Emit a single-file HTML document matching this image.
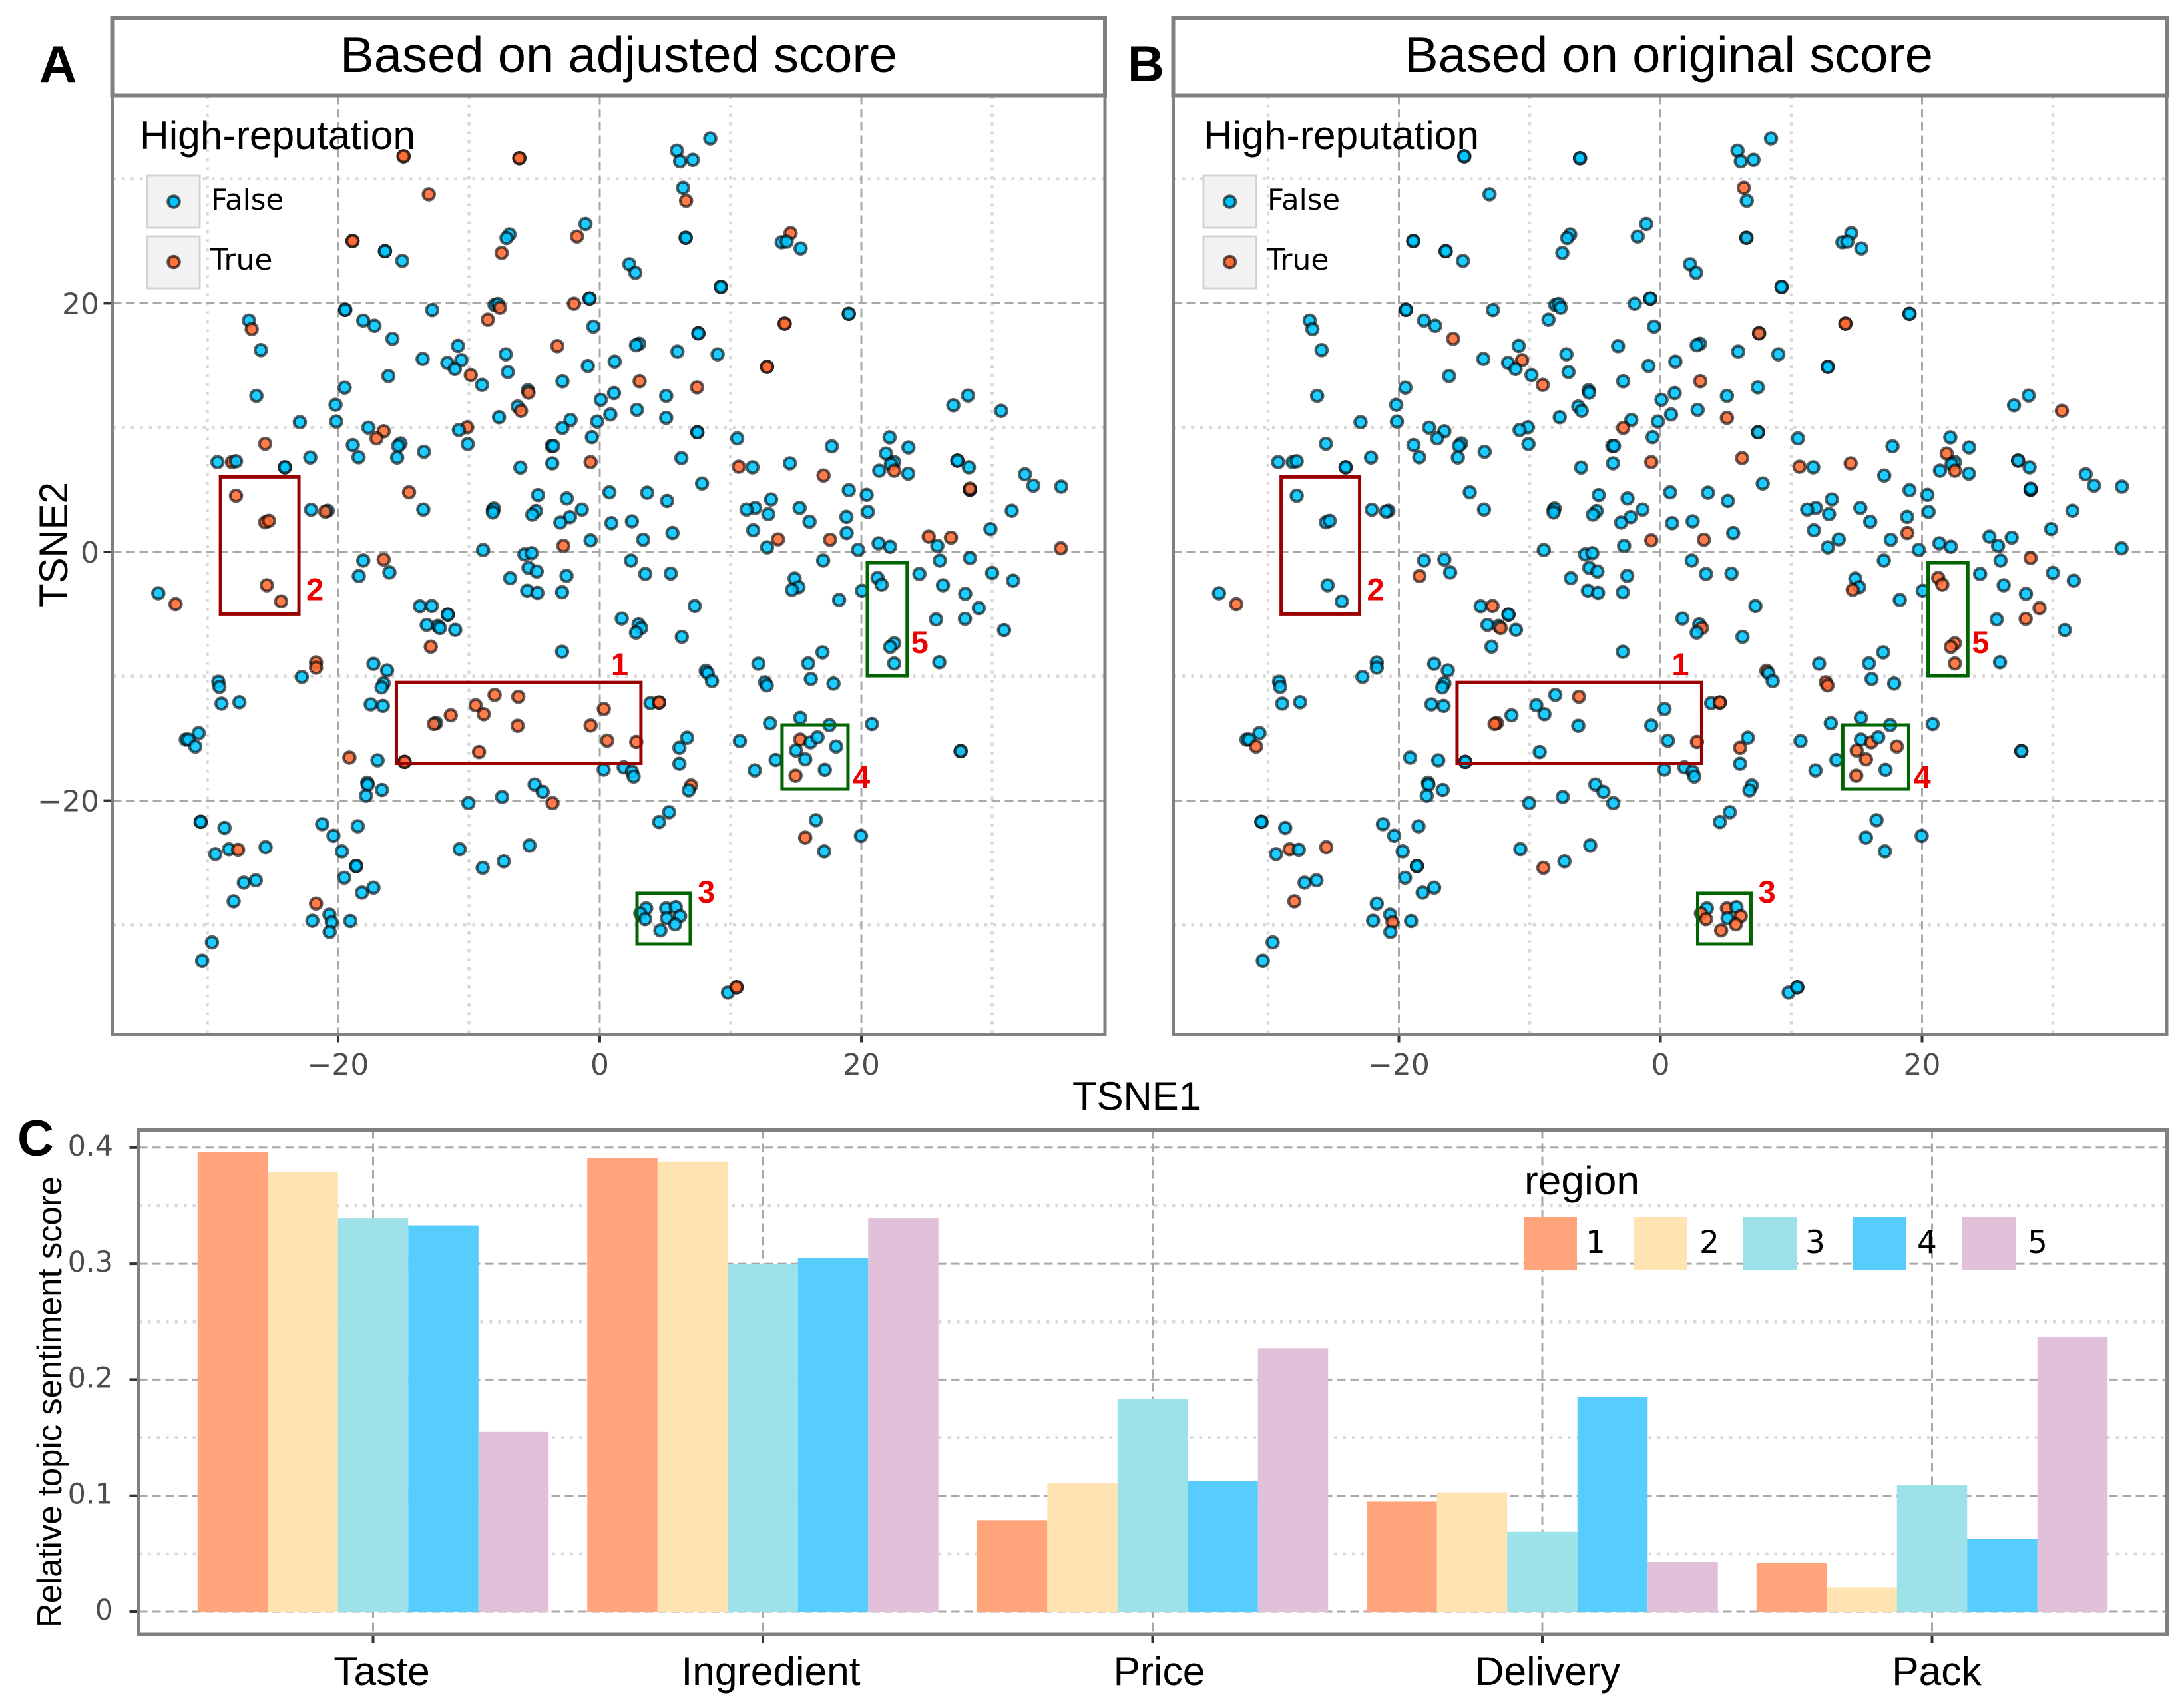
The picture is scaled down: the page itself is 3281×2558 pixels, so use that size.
<!DOCTYPE html>
<html lang="en">
<head>
<meta charset="utf-8">
<title>TSNE scatter panels and topic sentiment bars</title>
<style>
html,body{margin:0;padding:0;background:#fff;}
svg{display:block;}
.sans{font-family:"Liberation Sans",Arial,sans-serif;}
.dj{font-family:"DejaVu Sans",sans-serif;}
</style>
</head>
<body>
<svg id="fig" xmlns="http://www.w3.org/2000/svg" width="3281" height="2558" viewBox="0 0 3281 2558">
<rect x="0" y="0" width="3281" height="2558" fill="#ffffff"/>
<g id="panelA"></g>
<g id="panelB"></g>
<g id="panelC"></g>

<g>
<rect x="169.5" y="27" width="1490.5" height="116.5" fill="#fff" stroke="#808080" stroke-width="6"/>
<text class="sans" x="511" y="108" font-size="75" textLength="837" lengthAdjust="spacingAndGlyphs" fill="#000">Based on adjusted score</text>
</g>
<g>
<rect x="1762.5" y="27" width="1492.5" height="116.5" fill="#fff" stroke="#808080" stroke-width="6"/>
<text class="sans" x="2110" y="108" font-size="75" textLength="794" lengthAdjust="spacingAndGlyphs" fill="#000">Based on original score</text>
</g>

<text class="sans" x="59" y="123" font-size="78" font-weight="700" fill="#000">A</text>
<text class="sans" x="1694" y="122" font-size="76" font-weight="700" fill="#000">B</text>
<text class="sans" x="26" y="1736" font-size="76" font-weight="700" fill="#000">C</text>

<text class="sans" x="1611" y="1667" font-size="60" textLength="193" lengthAdjust="spacingAndGlyphs" fill="#000">TSNE1</text>
<text class="sans" transform="translate(101,912) rotate(-90)" x="0" y="0" font-size="60" textLength="188" lengthAdjust="spacingAndGlyphs" fill="#000">TSNE2</text>
<text class="sans" transform="translate(92,2445) rotate(-90)" x="0" y="0" font-size="52" textLength="678" lengthAdjust="spacingAndGlyphs" fill="#000">Relative topic sentiment score</text>

<g>
<text class="sans" x="210" y="224" font-size="60" textLength="414" lengthAdjust="spacingAndGlyphs" fill="#000">High-reputation</text>
<rect x="221" y="264" width="79" height="78" fill="#f2f2f2" stroke="#d4d4d4" stroke-width="3"/>
<rect x="221" y="355" width="79" height="78" fill="#f2f2f2" stroke="#d4d4d4" stroke-width="3"/>
<circle cx="261" cy="303" r="8.6" fill="#00c5ff" stroke="#000" stroke-opacity=".62" stroke-width="4.4"/>
<circle cx="261" cy="393.5" r="8.6" fill="#ff6f3d" stroke="#000" stroke-opacity=".62" stroke-width="4.4"/>
<text class="dj" x="317" y="315" font-size="43.5" fill="#000">False</text>
<text class="dj" x="316" y="405" font-size="44" fill="#000">True</text>
</g>
<g>
<text class="sans" x="1808" y="224" font-size="60" textLength="414" lengthAdjust="spacingAndGlyphs" fill="#000">High-reputation</text>
<rect x="1808" y="264" width="79" height="78" fill="#f2f2f2" stroke="#d4d4d4" stroke-width="3"/>
<rect x="1808" y="355" width="79" height="78" fill="#f2f2f2" stroke="#d4d4d4" stroke-width="3"/>
<circle cx="1847.5" cy="303" r="8.6" fill="#00c5ff" stroke="#000" stroke-opacity=".62" stroke-width="4.4"/>
<circle cx="1847.5" cy="393.5" r="8.6" fill="#ff6f3d" stroke="#000" stroke-opacity=".62" stroke-width="4.4"/>
<text class="dj" x="1904" y="315" font-size="43.5" fill="#000">False</text>
<text class="dj" x="1903" y="405" font-size="44" fill="#000">True</text>
</g>

<g>
<text class="sans" x="2290" y="1794" font-size="60" textLength="173" lengthAdjust="spacingAndGlyphs" fill="#000">region</text>
<rect x="2289" y="1828" width="80" height="80" fill="#ffa47b"/>
<rect x="2454" y="1828" width="81" height="80" fill="#ffe3b3"/>
<rect x="2619" y="1828" width="81" height="80" fill="#9ce2e8"/>
<rect x="2784" y="1828" width="80" height="80" fill="#56cdfd"/>
<rect x="2948" y="1828" width="80" height="80" fill="#e1c0d9"/>
<text class="dj" x="2382" y="1882" font-size="47" fill="#000">1</text>
<text class="dj" x="2553" y="1882" font-size="47" fill="#000">2</text>
<text class="dj" x="2712" y="1882" font-size="47" fill="#000">3</text>
<text class="dj" x="2880" y="1882" font-size="47" fill="#000">4</text>
<text class="dj" x="3046" y="1882" font-size="47" fill="#000">5</text>
</g>

<script>
var tsne1 = [
-15,-15,-6.15,-6.15,-13.07,-1.09,-1.74,-6.9,-7.13,-7.5,
-18.9,-18.9,-16.42,-16.42,-15.1,-0.78,-0.78,-19.46,-19.46,-12.81,
-1.97,-8.04,-7.78,-7.63,-8.56,-0.49,-26.82,-26.61,-25.91,-18.08,
-17.22,-15.85,-10.84,-13.54,-11.65,-10.58,-11.08,-9.86,-9,-16.16,
-7.19,-7.03,-3.24,-0.91,-2.85,-5.5,-5.45,-6.28,-6.02,-7.7,
-2.23,-2.85,-0.2,-0.6,-3.68,-3.55,-3.63,-0.7,-6.07,-19.5,
-20.2,-20.15,-22.93,-26.25,-25.58,-17.69,-16.52,-17.07,-18.88,-18.44,
-15.23,-15.41,-15.49,-13.44,-10.14,-10.77,-10.09,-29.23,-28.12,-27.81,
-24.07,-24.07,-22.13,-27.81,-25.58,-25.29,-22.07,-20.8,-20.99,-14.58,
-13.49,-8.17,-8.09,-8.17,-4.72,-4.88,-5.16,-2.52,-1.37,-2.28,
-3.01,-0.7,-2.78,-8.92,-5.76,-5.21,-18.08,-16.52,-33.75,-32.43,
-25.45,-24.36,-18.42,-16.08,-6.85,-5.45,-4.82,-5.55,-4.77,-2.54,
-2.88,-13.75,-12.84,-11.62,-11.62,-13.23,-12.37,-12.22,-11.05,-12.92,
-2.88,-17.3,-16.26,-16.52,-16.68,-17.51,-16.58,-21.69,-21.69,-22.78,
-29.16,-29.08,-28.92,-27.55,-30.66,-31.65,-31.44,-30.92,-19.14,-16.99,
-14.92,-14.92,-12.5,-12.68,-11.39,-9.49,-8.87,-8.04,-6.23,-6.28,
-9.23,-0.7,0.31,0.57,2.79,-17.77,-17.74,-16.65,-17.87,-10.04,
-7.47,-4.98,-4.36,-3.61,-30.51,-30.51,-28.69,-29.39,-28.35,-27.65,
-25.55,-27.21,-26.3,-27.99,-21.22,-20.36,-19.71,-18.5,-18.62,-18.62,
-19.53,-17.3,-18.18,-21.69,-20.67,-21.97,-20.49,-19.07,-20.65,-29.65,
-30.4,-10.71,-8.95,-7.34,-5.37,8.45,5.89,6.14,7.11,6.37,
6.6,6.57,6.57,14.59,13.91,14.29,15.36,2.26,2.72,9.26,
9.26,19.04,19.04,14.14,14.14,12.79,12.79,7.54,7.54,3.02,
2.77,5.94,9.01,1.14,3.05,1.09,0.08,0.81,2.84,5.08,
5.08,7.44,7.46,7.46,10.51,17.74,10.63,11.68,14.54,17.11,
6.24,7.82,0.74,3.63,5.15,0.89,2.46,3.32,5.56,2.39,
22.16,23.6,21.88,22.51,22.26,21.37,22.51,23.58,27.34,27.34,
28.22,28.15,27.03,30.69,32.51,33.15,35.28,28.3,28.3,28.3,
31.5,29.87,35.25,25.15,26.85,25.81,26,28.3,21.32,22.2,
19.75,19.04,20.41,20.5,18.86,18.88,17.61,17.08,13.1,11.88,
11.22,12.89,15.28,16.04,11.73,13.63,12.79,3.48,5.43,7.26,
1.68,2.97,3.17,2.77,6.27,14.9,15.2,14.7,20.05,18.3,
21.24,21.55,24.44,26.24,27.94,28.98,25.71,27.92,30,31.6,
30.91,25.96,22.51,22.2,22.51,17.03,15.94,16.14,17.87,12.13,
8.1,8.25,8.58,12.64,12.77,3.88,4.54,4.54,6.68,6.09,
6.09,6.98,6.8,5.3,4.54,0.3,1.83,2.46,2.59,10.71,
13.02,15.33,17.56,20.81,13.45,11.85,15.33,16.12,16.65,18.07,
15,15.71,17.21,14.97,16.52,15.71,19.97,17.16,27.59,27.59,
3.55,3.1,3.48,5.08,5.81,6.14,5.13,5.76,4.64,9.8,
10.46,10.46
];
var tsne2 = [
31.8,31.8,31.65,31.65,28.75,26.37,25.36,25.53,25.24,24.04,
25,25,24.18,24.18,23.4,20.38,20.38,19.47,19.47,19.45,
19.96,19.86,19.94,19.64,18.68,18.12,18.61,17.92,16.23,18.61,
18.19,17.14,16.57,15.52,15.2,15.42,14.71,14.22,13.43,14.14,
15.89,14.46,16.55,14.95,13.72,13,12.8,11.69,11.34,10.83,
10.61,9.97,10.48,9.23,8.52,8.52,7.12,7.22,6.78,13.21,
11.83,10.48,10.43,12.55,8.69,9.99,9.7,9.13,8.59,7.61,
8.72,8.52,7.59,8.05,10.02,9.8,8.67,7.22,7.22,7.29,
6.8,6.8,7.59,4.52,2.38,2.5,3.39,3.31,3.24,4.79,
3.41,3.38,3.49,3.17,4.57,3.29,3,4.3,3.41,2.8,
2.36,0.93,0.49,0.15,-0.2,-0.1,-0.69,-0.61,-3.32,-4.2,
-2.68,-3.98,-1.94,-1.65,-2.11,-1.28,-1.57,-3.12,-3.29,-1.92,
-3.24,-4.37,-4.35,-5.04,-5.04,-5.87,-5.95,-6.12,-6.27,-7.62,
-8.03,-9,-9.53,-10.57,-10.9,-12.26,-12.38,-8.89,-9.31,-10.05,
-10.44,-10.86,-12.2,-12.09,-14.57,-15.09,-15.09,-15.65,-16.54,-16.76,
-16.88,-16.88,-13.76,-13.83,-13.14,-12.33,-13.05,-11.5,-11.65,-13.98,
-16.09,-13.96,-12.63,-15.18,-15.28,-18.55,-18.72,-19.14,-19.6,-20.2,
-19.7,-18.7,-19.29,-20.2,-21.7,-21.7,-22.19,-24.3,-23.91,-23.95,
-23.74,-26.6,-26.41,-28.1,-21.89,-22.82,-24.08,-22.06,-25.26,-25.26,
-26.2,-27,-27.4,-28.28,-29.17,-29.66,-29.78,-29.68,-30.56,-31.4,
-32.88,-23.9,-25.4,-24.88,-23.6,33.24,32.26,31.4,31.52,29.27,
28.23,25.26,25.26,25.63,24.9,24.95,24.4,23.13,22.44,21.31,
21.31,19.15,19.15,18.36,18.36,14.88,14.88,17.58,17.58,16.74,
16.62,16.11,15.89,15.3,13.72,12.77,12.23,11.05,11.42,12.55,
10.78,13.23,9.62,9.62,9.13,8.49,6.85,6.8,7.12,6.14,
7.54,5.5,4.79,4.76,4.1,2.31,2.46,0.98,1.52,-0.69,
9.21,8.4,7.91,7.22,7.05,6.53,6.53,6.29,7.34,7.34,
6.8,12.57,11.79,11.34,6.24,5.33,5.25,5,5,5.08,
3.31,1.84,0.29,1.23,1.15,0.49,-0.69,-0.49,0.69,0.42,
0.17,4.96,4.59,3.22,2.82,1.52,0.98,-0.69,4.22,3.54,
3.41,3.04,3.54,2.43,1.74,1.01,0.37,-1.77,-1.74,-4.35,
-5.36,-5.82,-6.12,-6.49,-6.83,-2.14,-2.83,-3.05,-3.12,-3.86,
-2.09,-2.63,-1.77,-2.68,-3.37,-4.52,-5.43,-5.38,-1.69,-2.31,
-6.29,-8.87,-7.35,-7.64,-8.97,-8.08,-8.97,-10.22,-10.59,-8.99,
-9.56,-9.75,-10.39,-10.49,-10.74,-12.16,-12.11,-12.11,-14.94,-15.75,
-17.03,-18.77,-19.17,-20.93,-21.72,-17.5,-17.32,-17.66,-18.06,-15.21,
-13.78,-13.34,-13.93,-13.84,-16.73,-17.57,-15.09,-15.31,-14.91,-15.65,
-15.97,-16.68,-17.52,-17.99,-21.57,-22.97,-22.83,-24.08,-16.02,-16.02,
-28.67,-29.07,-29.53,-28.67,-28.57,-29.29,-29.46,-29.95,-30.44,-35.43,
-35,-35
];
var highRepAdjusted = [
1,1,1,1,1,0,1,0,0,1,
1,1,0,0,0,0,0,0,0,0,
1,0,0,1,1,0,0,1,0,0,
0,0,0,0,0,0,0,1,0,0,
0,0,1,0,0,0,1,0,1,0,
0,0,0,0,0,0,0,1,0,0,
0,0,0,0,1,0,1,1,0,0,
0,0,0,0,1,0,0,0,1,0,
0,0,0,1,1,1,0,0,1,1,
0,0,0,0,0,0,0,0,0,0,
0,0,1,0,0,0,0,1,0,1,
1,1,0,0,0,0,0,0,0,0,
0,0,0,0,0,0,0,0,0,1,
0,0,0,0,0,0,0,1,1,0,
0,0,0,0,0,0,0,0,1,0,
1,1,0,1,1,1,1,1,1,1,
1,1,1,1,1,0,0,0,0,0,
0,0,0,1,0,0,0,0,0,1,
0,0,0,0,0,0,0,0,0,0,
0,0,0,1,0,0,0,0,0,0,
0,0,0,0,0,0,0,0,0,0,
1,0,0,1,0,0,0,0,0,0,
0,1,0,1,1,1,1,0,0,0,
0,0,0,0,1,0,0,0,0,0,
0,1,0,0,0,0,1,0,0,1,
0,0,0,0,0,0,0,0,0,0,
0,0,0,0,0,0,1,0,0,0,
0,0,0,0,0,0,0,0,0,1,
0,0,1,1,1,0,0,0,0,0,
0,0,0,0,0,0,1,0,0,0,
0,0,0,0,0,1,0,0,0,0,
0,0,0,0,0,0,0,0,0,0,
0,0,0,0,0,0,0,0,0,0,
0,0,0,0,0,0,0,0,0,0,
0,0,0,0,0,0,1,1,0,0,
0,1,0,0,0,0,0,0,0,0,
0,0,0,0,0,0,1,0,0,0,
0,0,0,1,0,1,0,0,1,0,
0,0,0,0,0,0,0,0,0,0,
1,1
];
var highRepOriginal = [
0,0,0,0,0,0,0,0,0,0,
0,0,0,0,0,0,0,0,0,0,
0,0,0,0,0,0,0,0,0,0,
0,1,0,0,0,1,0,0,1,0,
0,0,0,0,0,0,0,0,0,0,
0,1,0,0,0,0,0,1,0,0,
0,0,0,0,0,0,0,0,0,0,
0,0,0,0,0,0,0,0,0,0,
0,0,0,0,0,0,0,0,0,0,
0,0,0,0,0,0,0,0,0,0,
0,1,0,0,0,0,0,0,0,1,
0,0,1,0,0,0,0,0,0,0,
0,0,1,0,0,0,0,1,0,0,
0,0,0,0,0,0,0,0,0,0,
0,0,0,0,0,0,0,1,0,0,
0,0,1,1,0,0,0,0,1,0,
0,0,0,0,1,0,0,0,0,0,
0,0,0,0,0,0,0,0,1,0,
1,0,0,1,0,0,0,0,0,0,
0,0,0,0,0,0,1,0,0,0,
0,0,1,0,0,0,0,0,0,1,
0,1,0,0,0,0,0,0,0,0,
0,0,0,1,1,0,0,0,1,0,
0,0,0,0,1,0,0,0,0,0,
1,0,1,0,0,0,1,0,1,0,
1,0,0,0,0,0,0,1,0,0,
0,0,1,0,0,0,1,0,1,0,
0,0,0,1,0,0,0,0,0,0,
0,0,0,0,0,0,0,1,0,0,
0,0,0,0,0,1,0,0,0,0,
0,0,0,0,0,0,0,0,0,0,
0,0,1,0,0,0,0,1,0,0,
1,1,0,0,0,1,0,1,0,0,
0,0,1,1,1,0,0,0,0,0,
1,0,0,1,1,0,1,1,0,1,
0,0,0,0,0,0,0,0,0,0,
0,0,0,0,0,0,0,1,0,1,
1,1,0,1,0,0,0,0,1,0,
0,1,1,1,0,1,0,1,1,0,
0,0
];
var scatterMajorTicks = [-20, 0, 20];
var scatterTickLabels = ["\u221220", "0", "20"];
var scatterMinorTicks = [-30, -10, 10, 30];
var regionNames = ["1", "2", "3", "4", "5"];
var regionBoxLeft = [-15.55, -29, 2.85, 13.94, 20.46];
var regionBoxRight = [3.15, -23, 6.92, 18.98, 23.5];
var regionBoxTop = [-10.5, 6.03, -27.46, -13.92, -0.86];
var regionBoxBottom = [-17, -5, -31.53, -19.06, -9.96];

var categories = ["Taste", "Ingredient", "Price", "Delivery", "Pack"];
var region1Scores = [0.396, 0.391, 0.079, 0.095, 0.042];
var region2Scores = [0.379, 0.388, 0.111, 0.103, 0.021];
var region3Scores = [0.339, 0.300, 0.183, 0.069, 0.109];
var region4Scores = [0.333, 0.305, 0.113, 0.185, 0.063];
var region5Scores = [0.155, 0.339, 0.227, 0.043, 0.237];
var scoreMajorTicks = [0, 0.1, 0.2, 0.3, 0.4];
var scoreTickLabels = ["0", "0.1", "0.2", "0.3", "0.4"];
var scoreMinorTicks = [0.05, 0.15, 0.25, 0.35];

var NS = 'http://www.w3.org/2000/svg';
function make(parent, tag, attrs, text) {
  var el = document.createElementNS(NS, tag);
  for (var k in attrs) { el.setAttribute(k, attrs[k]); }
  if (text !== undefined) { el.textContent = text; }
  parent.appendChild(el);
  return el;
}

var scatterTop = 143.5, scatterBottom = 1553.5;
function yScale(v) { return 829 - v * 18.68; }
function xScaleFor(zero) { return function (v) { return zero + v * 19.65; }; }

function drawScatter(group, cfg) {
  var xScale = xScaleFor(cfg.zero);
  var i, el;
  make(group, 'rect', {x: cfg.left, y: scatterTop, width: cfg.right - cfg.left, height: scatterBottom - scatterTop, fill: '#fff'});
  for (i = 0; i < scatterMinorTicks.length; i++) {
    el = make(group, 'line', {x1: xScale(scatterMinorTicks[i]), x2: xScale(scatterMinorTicks[i]), y1: scatterTop, y2: scatterBottom, stroke: '#d9d9d9', 'stroke-width': 4.5, 'stroke-dasharray': '4.5 9'});
    
    
    el = make(group, 'line', {x1: cfg.left, x2: cfg.right, y1: yScale(scatterMinorTicks[i]), y2: yScale(scatterMinorTicks[i]), stroke: '#d9d9d9', 'stroke-width': 4.5, 'stroke-dasharray': '4.5 9'});
    
    
  }
  for (i = 0; i < scatterMajorTicks.length; i++) {
    var xp = xScale(scatterMajorTicks[i]), yp = yScale(scatterMajorTicks[i]);
    el = make(group, 'line', {x1: xp, x2: xp, y1: scatterTop, y2: scatterBottom, stroke: '#a8a8a8', 'stroke-width': 3, 'stroke-dasharray': '13 7'});
    
    
    el = make(group, 'line', {x1: cfg.left, x2: cfg.right, y1: yp, y2: yp, stroke: '#a8a8a8', 'stroke-width': 3, 'stroke-dasharray': '13 7'});
    
    
    el = make(group, 'line', {x1: xp, x2: xp, y1: scatterBottom, y2: scatterBottom + 12, stroke: '#333', 'stroke-width': 4});
    
    
    el = make(group, 'text', {x: xp, y: 1614, 'text-anchor': 'middle', 'font-size': 44, fill: '#4d4d4d', 'class': 'dj'}, scatterTickLabels[i]);
    
    
    if (cfg.showY) {
      el = make(group, 'line', {x1: cfg.left - 14, x2: cfg.left, y1: yp, y2: yp, stroke: '#333', 'stroke-width': 4});
      
      
      el = make(group, 'text', {x: 149, y: yp + 16, 'text-anchor': 'end', 'font-size': 44, fill: '#4d4d4d', 'class': 'dj'}, scatterTickLabels[i]);
      
      
    }
  }
  for (i = 0; i < tsne1.length; i++) {
    var isTrue = cfg.flags[i] === 1;
    el = make(group, 'circle', {cx: xScale(tsne1[i]), cy: yScale(tsne2[i]), r: 8.6, fill: isTrue ? '#ff6a33' : '#00c5ff', 'fill-opacity': 0.88, stroke: '#000', 'stroke-opacity': 0.62, 'stroke-width': 4.4});
    
    
  }
  for (i = 0; i < regionNames.length; i++) {
    var left = xScale(regionBoxLeft[i]), right = xScale(regionBoxRight[i]);
    var top = yScale(regionBoxTop[i]), bottom = yScale(regionBoxBottom[i]);
    var colour = i < 2 ? '#990000' : '#006400';
    el = make(group, 'rect', {x: left, y: top, width: right - left, height: bottom - top, fill: 'none', stroke: colour, 'stroke-width': 5});
    
    
    var lx = i === 0 ? right - 45 : (i === 3 ? right + 7 : (i === 4 ? right + 6 : right + 11));
    var ly = i === 0 ? top - 11 : (i === 1 ? bottom - 21 : (i === 2 ? top + 14 : (i === 3 ? bottom - 2 : bottom - 34)));
    el = make(group, 'text', {x: lx, y: ly, 'font-size': 47, 'font-weight': 700, fill: '#ee0000', 'class': 'sans'}, regionNames[i]);
    
    
  }
  el = make(group, 'rect', {x: cfg.left, y: scatterTop, width: cfg.right - cfg.left, height: scatterBottom - scatterTop, fill: 'none', stroke: '#808080', 'stroke-width': 5});
  
  
}

drawScatter(document.getElementById('panelA'), {zero: 901, left: 169.5, right: 1660, flags: highRepAdjusted, showY: true});
drawScatter(document.getElementById('panelB'), {zero: 2494.5, left: 1762.5, right: 3255, flags: highRepOriginal, showY: false});

(function () {
  var group = document.getElementById('panelC');
  var series = [region1Scores, region2Scores, region3Scores, region4Scores, region5Scores];
  var colours = ['#ffa47b', '#ffe3b3', '#9ce2e8', '#56cdfd', '#e1c0d9'];
  var labelOffsets = [13, 12, 10, 8, 7];
  var left = 208.5, right = 3255.5, top = 1697.5, bottom = 2455;
  var barWidth = 105.5;
  function scoreY(v) { return 2421 - v * 1743; }
  function categoryX(i) { return 560.5 + i * 585.5; }
  var i, j, el;
  for (i = 0; i < scoreMinorTicks.length; i++) {
    el = make(group, 'line', {x1: left, x2: right, y1: scoreY(scoreMinorTicks[i]), y2: scoreY(scoreMinorTicks[i]), stroke: '#d9d9d9', 'stroke-width': 4.5, 'stroke-dasharray': '4.5 9'});
    
    
  }
  for (i = 0; i < scoreMajorTicks.length; i++) {
    var yp = scoreY(scoreMajorTicks[i]);
    el = make(group, 'line', {x1: left, x2: right, y1: yp, y2: yp, stroke: '#a8a8a8', 'stroke-width': 3, 'stroke-dasharray': '13 7'});
    
    
    el = make(group, 'line', {x1: left - 14, x2: left, y1: yp, y2: yp, stroke: '#333', 'stroke-width': 4});
    
    
    el = make(group, 'text', {x: 170, y: yp + 12, 'text-anchor': 'end', 'font-size': 43, fill: '#4d4d4d', 'class': 'dj'}, scoreTickLabels[i]);
    
    
  }
  for (i = 0; i < categories.length; i++) {
    var cx = categoryX(i);
    el = make(group, 'line', {x1: cx, x2: cx, y1: top, y2: bottom, stroke: '#a8a8a8', 'stroke-width': 3, 'stroke-dasharray': '13 7'});
    
    
    el = make(group, 'line', {x1: cx, x2: cx, y1: bottom, y2: bottom + 13, stroke: '#333', 'stroke-width': 4});
    
    
    el = make(group, 'text', {x: cx + labelOffsets[i], y: 2531, 'text-anchor': 'middle', 'font-size': 60.5, fill: '#000', 'class': 'sans'}, categories[i]);
    
    
  }
  for (i = 0; i < categories.length; i++) {
    for (j = 0; j < series.length; j++) {
      var topY = scoreY(series[j][i]);
      el = make(group, 'rect', {x: categoryX(i) + (j - 2.5) * barWidth, y: topY, width: barWidth, height: scoreY(0) - topY, fill: colours[j]});
      
      
    }
  }
  el = make(group, 'rect', {x: left, y: top, width: right - left, height: bottom - top, fill: 'none', stroke: '#808080', 'stroke-width': 5});
  
  
})();
</script>
</svg>
</body>
</html>
